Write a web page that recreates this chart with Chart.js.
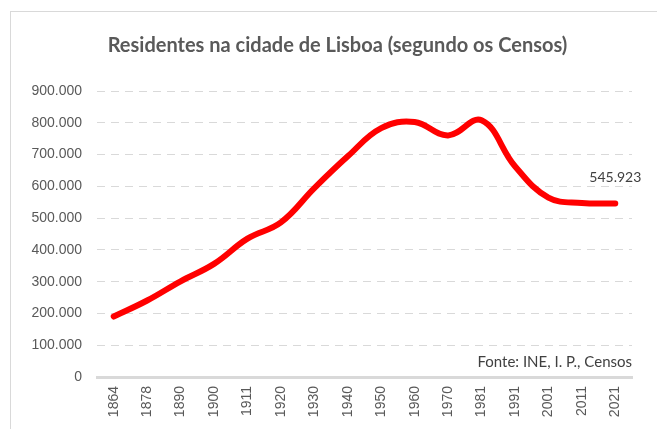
<!DOCTYPE html>
<html>
<head>
<meta charset="utf-8">
<script src="https://cdn.jsdelivr.net/npm/chart.js@4.4.0/dist/chart.umd.min.js"></script>
<style>
    html, body { margin: 0; padding: 0; background: #fff; overflow: hidden; }
    #wrap { position: relative; width: 657px; height: 429px; }
    #frame { position: absolute; left: 10px; top: 11px; width: 655px; height: 450px; border: 1.5px solid #d9d9d9; box-sizing: border-box; }
    canvas { position: absolute; left: 0; top: 0; }
</style>
</head>
<body>
<div id="wrap">
    <div id="frame"></div>
    <canvas id="chart" width="657" height="429"></canvas>
</div>
<script>
// Census years and residents of Lisbon
const years = ['1864', '1878', '1890', '1900', '1911', '1920', '1930', '1940', '1950', '1960', '1970', '1981', '1991', '2001', '2011', '2021'];
const residents = [190311, 240740, 301206, 356009, 435359, 486372, 594390, 694389, 783226, 802230, 760150, 807937, 663394, 564657, 547733, 545923];
const yMax = 900000;
const yStep = 100000;
const titleText = 'Residentes na cidade de Lisboa (segundo os Censos)';
const sourceNote = 'Fonte: INE, I. P., Censos';

const fmt = v => String(v).replace(/\B(?=(\d{3})+(?!\d))/g, '.');

// Title (centred on the outer frame, which runs past the window), last value label and source note
const extraText = {
    id: 'extraText',
    afterDatasetsDraw(chart) {
        const ctx = chart.ctx;
        const meta = chart.getDatasetMeta(0);
        const last = meta.data[meta.data.length - 1];
        const area = chart.chartArea;
        ctx.save();
        ctx.textBaseline = 'middle';
        ctx.textAlign = 'center';
        ctx.fillStyle = '#595959';
        ctx.font = 'bold 20px Lato';
        ctx.fillText(titleText, 10 + 655 / 2, 46);
        ctx.fillStyle = '#404040';
        ctx.font = '14px Lato';
        ctx.fillText(fmt(residents[residents.length - 1]), last.x, last.y - 26);
        ctx.font = '15px Lato';
        ctx.textAlign = 'right';
        ctx.fillText(sourceNote, area.right, area.bottom - 15);
        ctx.restore();
    }
};

new Chart(document.getElementById('chart'), {
    type: 'line',
    data: {
        labels: years,
        datasets: [{
            label: 'Residentes',
            data: residents,
            borderColor: '#ff0000',
            borderWidth: 6,
            borderCapStyle: 'round',
            borderJoinStyle: 'round',
            pointRadius: 0,
            fill: false,
            tension: 0.4
        }]
    },
    options: {
        responsive: false,
        animation: false,
        layout: { padding: { left: 0, right: 25, top: 91, bottom: 0 } },
        scales: {
            x: {
                offset: true,
                grid: { display: false, drawTicks: false },
                border: { display: true, color: '#d9d9d9', width: 3 },
                ticks: {
                    color: '#595959',
                    font: { family: 'Liberation Sans', size: 14 },
                    maxRotation: 90,
                    minRotation: 90,
                    padding: 9,
                    autoSkip: false
                },
                afterFit: s => { s.height = 52; }
            },
            y: {
                min: 0,
                max: yMax,
                grid: { color: '#d9d9d9', lineWidth: 1, drawTicks: false },
                border: { display: false, dash: [8, 6] },
                ticks: {
                    stepSize: yStep,
                    color: '#595959',
                    font: { family: 'Liberation Sans', size: 14 },
                    padding: 15,
                    callback: v => fmt(v)
                },
                afterFit: s => { s.width = 97; }
            }
        },
        plugins: {
            legend: { display: false },
            tooltip: { enabled: false },
            title: { display: false }
        }
    },
    plugins: [extraText]
});
</script>
</body>
</html>
